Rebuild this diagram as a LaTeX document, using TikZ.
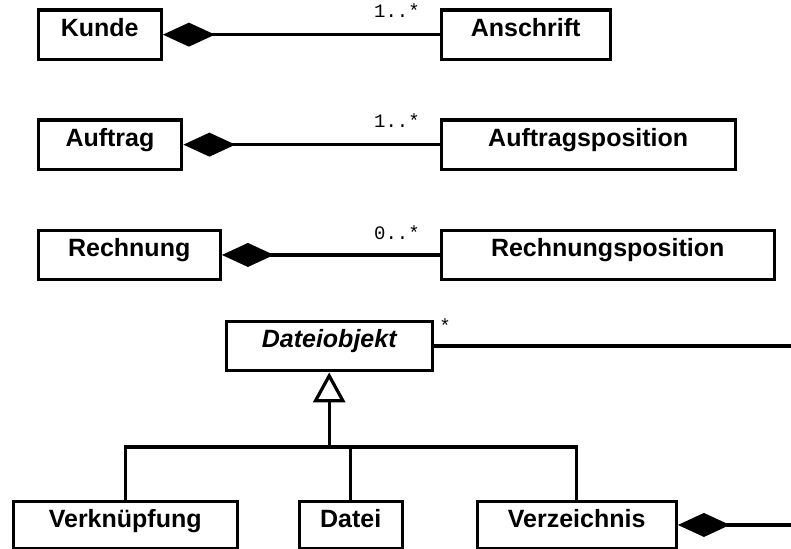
\documentclass[tikz,border=0pt]{standalone}
\usepackage{fontspec}
\setmainfont{Liberation Sans}
\newfontfamily\multfont{Liberation Mono}
\usetikzlibrary{arrows.meta}
\begin{document}
\begin{tikzpicture}[x=1pt,y=-1pt,
  cls/.style={draw, line width=3.4pt, inner sep=0pt, anchor=north west,
    text height=26.5pt, text depth=23pt,
    font=\fontsize{25}{30}\selectfont\bfseries},
  lowcls/.style={cls, text depth=21pt},
  link/.style={line width=3.2pt},
  comp/.style={link, {Diamond[length=52pt,width=24pt]}-},
  gen/.style={link, -{Triangle[open,length=30pt,width=32pt,fill=white]}},
  mult/.style={font=\multfont\fontsize{19}{22}\selectfont, inner sep=0pt, anchor=base east}]
\useasboundingbox (0,0) rectangle (791,548);

% classes
\node[cls, minimum width=123pt] (kunde) at (36.5,8.2) {Kunde};
\node[cls, minimum width=169pt] (anschrift) at (439.5,8.2) {Anschrift};
\node[cls, minimum width=143.5pt] (auftrag) at (36.5,118.2) {Auftrag};
\node[cls, minimum width=294pt] (auftragspos) at (439.5,118.2) {Auftragsposition};
\node[cls, minimum width=182pt] (rechnung) at (36.5,228.5) {Rechnung};
\node[cls, minimum width=333pt] (rechnungspos) at (439.5,228.5) {Rechnungsposition};
\node[cls, minimum width=206pt, font=\fontsize{25}{30}\selectfont\bfseries\itshape] (dateiobjekt) at (224.5,319.5) {Dateiobjekt};
\node[lowcls, minimum width=224pt] (verk) at (11.5,499.5) {Verknüpfung};
\node[lowcls, minimum width=103pt] (datei) at (297.5,499.5) {Datei};
\node[lowcls, minimum width=199pt] (verz) at (475.5,499.5) {Verzeichnis};

% compositions
\draw[comp] (kunde.east) -- (anschrift.west);
\draw[comp] (auftrag.east) -- (auftragspos.west);
\draw[comp] (rechnung.east) -- (rechnungspos.west);

\node[mult] (m1) at (420,18) {1..*};
\node[mult] (m2) at (420,127.5) {1..*};
\node[mult] (m3) at (420,239) {0..*};

% file system
\coordinate (rim) at (791,0);
\coordinate (bar) at (0,447);
\draw[link] (dateiobjekt.east) -- (dateiobjekt.east -| rim);
\node[font=\multfont\fontsize{19}{22}\selectfont, inner sep=0pt, anchor=base] (m4) at (445,332) {*};
\draw[comp] (verz.east) -- (verz.east -| rim);

\draw[link] (verk.north) |- (bar -| verz.north) -- (verz.north);
\draw[link] (datei.north) -- (datei.north |- bar);
\draw[gen] (dateiobjekt.south |- bar) -- (dateiobjekt.south);
\end{tikzpicture}
\end{document}
